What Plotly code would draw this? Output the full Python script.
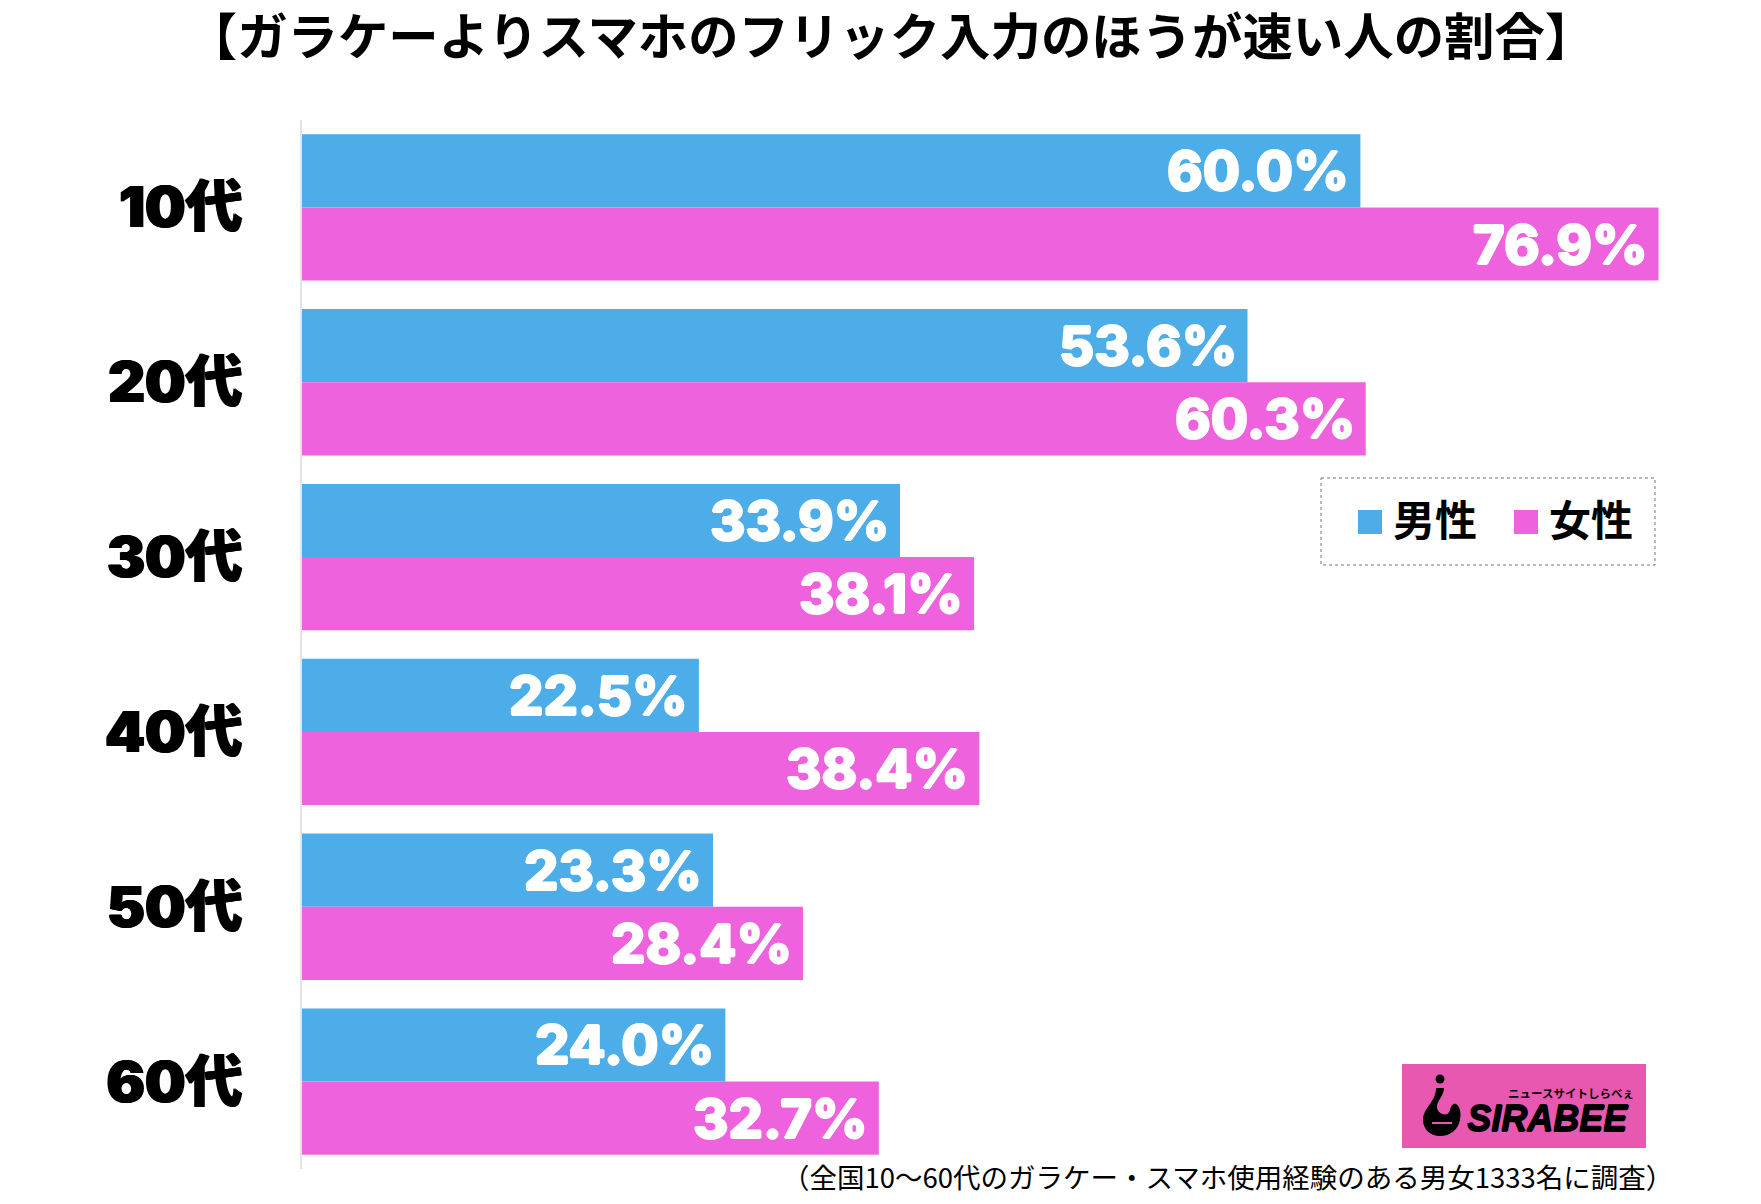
import plotly.graph_objects as go

# chart data
ages = ["10代", "20代", "30代", "40代", "50代", "60代"]
male = [60.0, 53.6, 33.9, 22.5, 23.3, 24.0]
female = [76.9, 60.3, 38.1, 38.4, 28.4, 32.7]
series_names = ["男性", "女性"]
title_text = "【ガラケーよりスマホのフリック入力のほうが速い人の割合】"
note_text = "（全国10〜60代のガラケー・スマホ使用経験のある男女1333名に調査）"

BLUE = "#4DADE9"
PINK = "#EE62DE"
LOGO = "#E858B0"
JP = "Noto Sans CJK JP"
HEAVY = "Inter, Noto Sans CJK JP"

# the page body has an 8px margin, so the figure sits at (8, 8)
OFF = 8
W, H = 1761 - 2 * OFF, 1204 - 2 * OFF
# plot area in screenshot pixels
left, right, top, bottom = 302, 1700, 120, 1169


def px(x):
    return (x - left) / (right - left)


def py(y):
    return 1 - (y - top) / (bottom - top)


fig = go.Figure()
for name, vals, col in [(series_names[0], male, BLUE), (series_names[1], female, PINK)]:
    fig.add_trace(go.Bar(
        y=ages, x=vals, name=name, orientation="h",
        marker=dict(color=col, line_width=0),
    ))

shapes = []
annots = []

# value labels sit on the bar ends
for vals, shift in [(male, 36.6), (female, -36.6)]:
    for age, v in zip(ages, vals):
        annots.append(dict(x=v, y=age, xref="x", yref="y", text=f"{v:.1f}%", showarrow=False,
                           xanchor="right", yanchor="middle", xshift=-9, yshift=shift,
                           font=dict(family="Inter", size=54, color="white", weight=800,
                                     shadow="1px 0 0 white, -1px 0 0 white, 0 1px 0 white, 0 -1px 0 white")))


def label(x, y, text, size, anchor="left", color="black", weight="bold", family=JP, style="normal", shadow="none"):
    annots.append(dict(xref="paper", yref="paper", x=px(x), y=py(y), text=text, showarrow=False,
                       xanchor=anchor, yanchor="middle", borderpad=0,
                       font=dict(family=family, size=size, color=color, weight=weight, style=style, shadow=shadow)))


def rect(x0, y0, x1, y1, fill, line=None):
    shapes.append(dict(type="rect", xref="paper", yref="paper", x0=px(x0), x1=px(x1), y0=py(y0), y1=py(y1),
                       fillcolor=fill, line=line or dict(width=0), layer="above"))


# footnote
label(1674, 1176, note_text, 27.5, anchor="right", weight="normal")

# legend box
rect(1321, 478, 1655, 565, "rgba(0,0,0,0)", dict(color="#777777", width=1, dash="dot"))
rect(1358, 510, 1382, 534, BLUE)
rect(1514, 510, 1538, 534, PINK)
label(1392, 517.5, series_names[0], 42)
label(1548, 517.5, series_names[1], 42)

# sirabee logo
rect(1402, 1064, 1646, 1148, LOGO)
shapes.append(dict(type="circle", xref="paper", yref="paper", fillcolor="black", line_width=0, layer="above",
                   x0=px(1435.5), x1=px(1444.5), y0=py(1074.5), y1=py(1083.5)))
hook = [("M", 1436, 1088), ("L", 1444, 1088),
        ("C", 1444, 1096, 1437, 1100, 1437, 1107),
        ("C", 1437, 1114, 1448, 1118, 1450, 1110),
        ("C", 1451, 1106, 1453, 1103, 1456, 1104),
        ("C", 1461, 1107, 1461, 1115, 1460, 1120),
        ("C", 1458, 1130, 1450, 1136, 1440, 1136),
        ("C", 1430, 1136, 1423, 1129, 1423, 1120),
        ("C", 1423, 1108, 1436, 1102, 1436, 1088)]
hook_path = ""
for seg in hook:
    nums = seg[1:]
    pts = [f"{px(nums[i])},{py(nums[i + 1])}" for i in range(0, len(nums), 2)]
    hook_path += seg[0] + " ".join(pts) + " "
shapes.append(dict(type="path", xref="paper", yref="paper", path=hook_path + "Z", fillcolor="black", line_width=0,
                   layer="above"))
rect(1432, 1122, 1452, 1124, LOGO)
label(1466, 1118, "SIRABEE", 36, color="black", weight="bold", family="Liberation Sans", style="italic",
      shadow="1px 0 0 black, 0 1px 0 black, 0 -1px 0 black")
label(1507, 1093, "ニュースサイトしらべぇ", 11.5, color="black")

fig.update_layout(
    width=W, height=H,
    title=dict(text=title_text, x=(891 - OFF) / W, y=1 - (37 - OFF) / H, xanchor="center", yanchor="middle",
               xref="container", yref="container", font=dict(family=JP, size=50.4, color="black", weight="bold")),
    margin=dict(l=left - OFF, r=W + OFF - right, t=top - OFF, b=H + OFF - bottom, pad=0, autoexpand=False),
    barmode="group", bargap=0.163, bargroupgap=0,
    plot_bgcolor="white", paper_bgcolor="white",
    showlegend=False,
    shapes=shapes, annotations=annots,
    xaxis=dict(range=[0, (right - left) / 17.64], visible=False, fixedrange=True),
    yaxis=dict(autorange="reversed", showgrid=False, zeroline=False, showline=True,
               linecolor="#E4E4E4", linewidth=2, ticks="", ticklabelstandoff=46,
               tickfont=dict(family=HEAVY, size=57, color="black", weight=900,
                             shadow="1px 0 0 black, -1px 0 0 black")),
)
fig.write_html("out.html")
